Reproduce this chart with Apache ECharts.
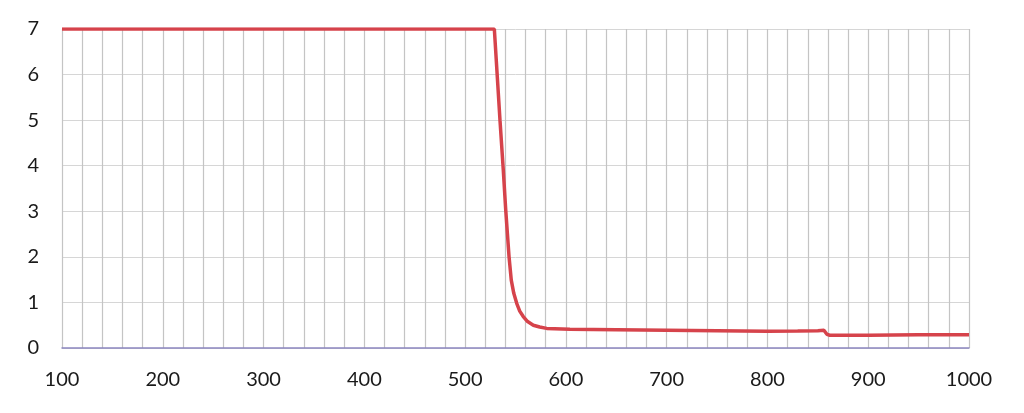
<!DOCTYPE html>
<html><head><meta charset="utf-8">
<script src="https://cdn.jsdelivr.net/npm/echarts@6/dist/echarts.min.js"></script>
<style>html,body{margin:0;padding:0;background:#fff}#c{width:1024px;height:413px}</style>
</head><body><div id="c"></div>
<script>
const xValues = [100, 300, 529, 534.6, 537.9, 540.3, 542, 543.6, 545.8, 548.3, 551.2, 554.2, 557.7, 562, 567.7, 574, 581, 604, 650, 700, 750, 800, 830, 850, 856, 859, 862, 900, 950, 1000];
const yValues = [7, 7, 7, 5.0, 3.9, 3.03, 2.5, 2.0, 1.49, 1.2, 0.98, 0.81, 0.69, 0.58, 0.50, 0.46, 0.43, 0.41, 0.40, 0.39, 0.38, 0.37, 0.375, 0.38, 0.39, 0.30, 0.28, 0.28, 0.29, 0.29];
const xTicks = [100, 200, 300, 400, 500, 600, 700, 800, 900, 1000];
const yTicks = [0, 1, 2, 3, 4, 5, 6, 7];

const data = xValues.map((x, i) => [x, yValues[i]]);
const chart = echarts.init(document.getElementById('c'));
chart.setOption({
  animation: false,
  grid: { left: 62, right: 55, top: 29, bottom: 65 },
  xAxis: {
    type: 'value', min: xTicks[0], max: xTicks[xTicks.length - 1], interval: 100,
    axisLine: { show: true, onZero: true, lineStyle: { color: '#8c87c0', width: 1.5 } },
    axisTick: { show: false },
    axisLabel: { color: '#1a1a1a', fontSize: 20, fontFamily: 'Lato', margin: 22, formatter: v => String(v) },
    splitLine: { show: true, lineStyle: { color: '#c4c4c4', width: 1.2 } },
    minorTick: { show: false, splitNumber: 5 },
    minorSplitLine: { show: true, lineStyle: { color: '#c4c4c4', width: 1.2 } }
  },
  yAxis: {
    type: 'value', min: yTicks[0], max: yTicks[yTicks.length - 1], interval: 1,
    axisLine: { show: false },
    axisTick: { show: false },
    axisLabel: { color: '#1a1a1a', fontSize: 20, fontFamily: 'Lato', margin: 23 },
    splitLine: { show: true, lineStyle: { color: '#d6d6d6', width: 1 } }
  },
  series: [{
    type: 'line', data: data, showSymbol: false, symbol: 'none',
    lineStyle: { color: '#d6434b', width: 3.5 }
  }]
});
</script></body></html>
